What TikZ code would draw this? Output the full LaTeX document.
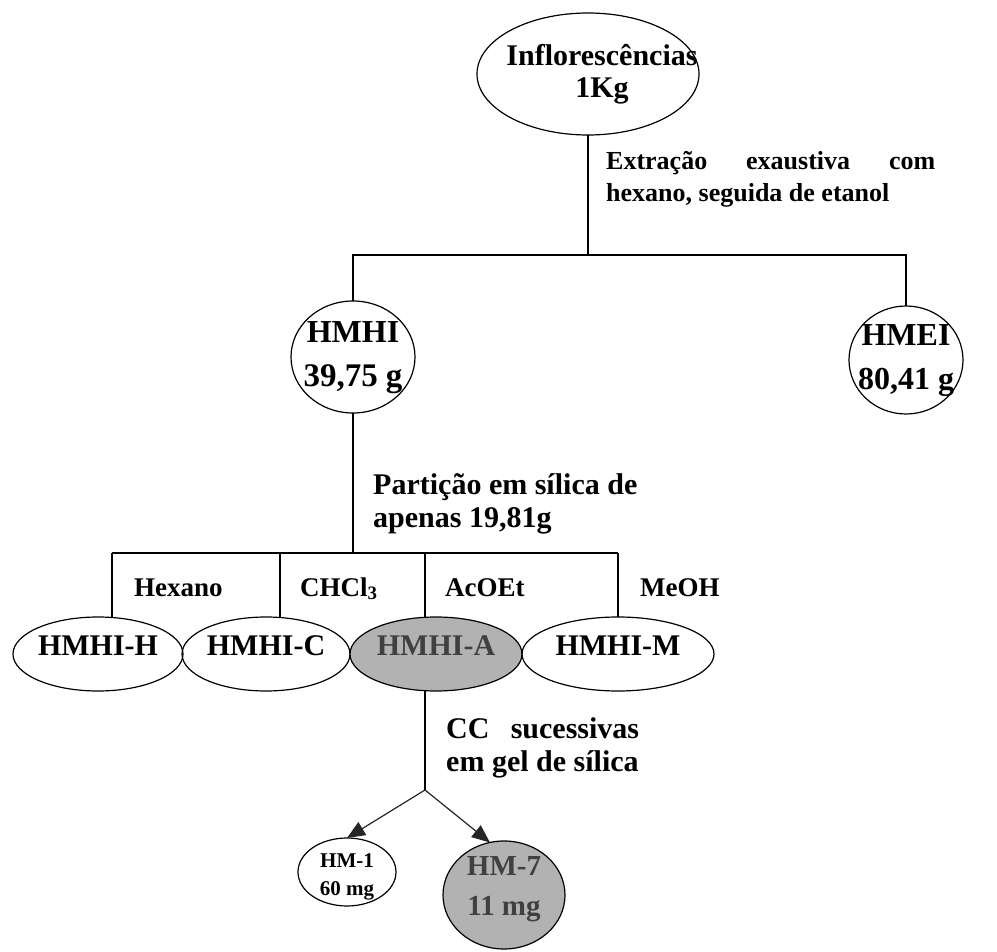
\documentclass[tikz,border=0pt]{standalone}
\usepackage{fontspec}
\setmainfont{Liberation Serif}
\usetikzlibrary{shapes.geometric,arrows.meta}

% zero-size text block, so an oval keeps exactly its given size
\newcommand\inside[3]{\makebox[0pt]{\hspace*{#1}\raisebox{#2}[0pt][0pt]{\begin{tabular}{@{}c@{}}#3\end{tabular}}}}
\newcommand\fs[2]{\fontsize{#1}{#2}\selectfont}

\begin{document}
\begin{tikzpicture}[x=1pt,y=-1pt,
  oval/.style={draw, ellipse, line width=1.2pt, inner sep=0pt, outer sep=0pt},
  shade/.style={fill=black!30},
  wire/.style={line width=1.2pt},
  arr/.style={line width=1.2pt, -{Triangle[length=18pt,width=15pt]}},
  lab/.style={anchor=base west, inner sep=0pt, align=left, font=\bfseries\fs{27}{32}},
  biglab/.style={anchor=base west, inner sep=0pt, align=left, font=\bfseries\fs{30}{33}},
  every node/.append style={font=\bfseries}]
\useasboundingbox (0,0) rectangle (997,952);

% source material
\node[oval, minimum width=222pt, minimum height=122pt] (flor) at (588,74)
  {\bfseries\fs{30}{32}\inside{28pt}{-7pt}{Inflorescências\\1Kg}};
\coordinate (split1) at (588,255);
\draw[wire] (flor.south) -- (split1);
\node[lab, font=\bfseries\fs{26}{32}] (ext) at (606,202)
  {\makebox[329pt][s]{Extração exaustiva com}\\hexano, seguida de etanol};

% first-level extracts
\node[oval, minimum width=124pt, minimum height=112pt] (hmhi) at (353,357)
  {\bfseries\fs{32}{44}\inside{0pt}{-5pt}{HMHI\\\fs{33}{44}39,75 g}};
\node[oval, minimum width=114pt, minimum height=108pt] (hmei) at (906,360)
  {\bfseries\fs{32}{44}\inside{0pt}{-5pt}{HMEI\\80,41 g}};
\draw[wire] (hmhi.north) |- (split1) -| (hmei.north);

% partition of HMHI
\node[biglab] (part) at (373,527) {Partição em sílica de\\apenas 19,81g};
\coordinate (split2) at (353,553);
\draw[wire] (hmhi.south) -- (split2);

\node[oval, minimum width=170pt, minimum height=74pt] (hh) at (98,654)
  {\bfseries\fs{30}{30}\inside{0pt}{-2pt}{HMHI-H}};
\node[oval, minimum width=168pt, minimum height=74pt] (hc) at (266,654)
  {\bfseries\fs{30}{30}\inside{0pt}{-2pt}{HMHI-C}};
\node[oval, shade, minimum width=172pt, minimum height=74pt] (ha) at (436,654)
  {\bfseries\fs{30}{30}\inside{0pt}{-2pt}{\color{black!75}HMHI-A}};
\node[oval, minimum width=192pt, minimum height=74pt] (hm) at (618,654)
  {\bfseries\fs{30}{30}\inside{0pt}{-2pt}{HMHI-M}};

\coordinate (dh) at (112,553);
\coordinate (dc) at (280,553);
\coordinate (da) at (425,553);
\coordinate (dm) at (618,553);
\draw[wire] (dh) -- (dm);
\draw[wire] (dh) -- (dh |- hh.north);
\draw[wire] (dc) -- (dc |- hc.north);
\draw[wire] (da) -- (da |- ha.north);
\draw[wire] (dm) -- (hm.north);

\node[lab] (sh) at (134,596) {Hexano};
\node[lab] (sc) at (300,596) {CHCl\textsubscript{3}};
\node[lab] (sa) at (445,596) {AcOEt};
\node[lab] (sm) at (640,596) {MeOH};

% column chromatography of HMHI-A
\coordinate (split3) at (425,790);
\draw[wire] (da |- ha.south) -- (split3);
\node[biglab] (cc) at (446,771)
  {\makebox[193pt][s]{CC sucessivas}\\em gel de sílica};

\node[oval, minimum width=98pt, minimum height=68pt] (hm1) at (347,872)
  {\bfseries\fs{21}{28}\inside{0pt}{-9pt}{HM-1\\60 mg}};
\node[oval, shade, minimum width=122pt, minimum height=108pt] (hm7) at (504,895)
  {\bfseries\fs{29}{40}\inside{0pt}{1pt}{\color{black!75}HM-7\\\color{black!75}11 mg}};
\draw[arr, draw=black!85, fill=black!85] (split3) -- (hm1.north);
\draw[arr, draw=black!85, fill=black!85] (split3) -- (hm7.105);
\end{tikzpicture}
\end{document}
